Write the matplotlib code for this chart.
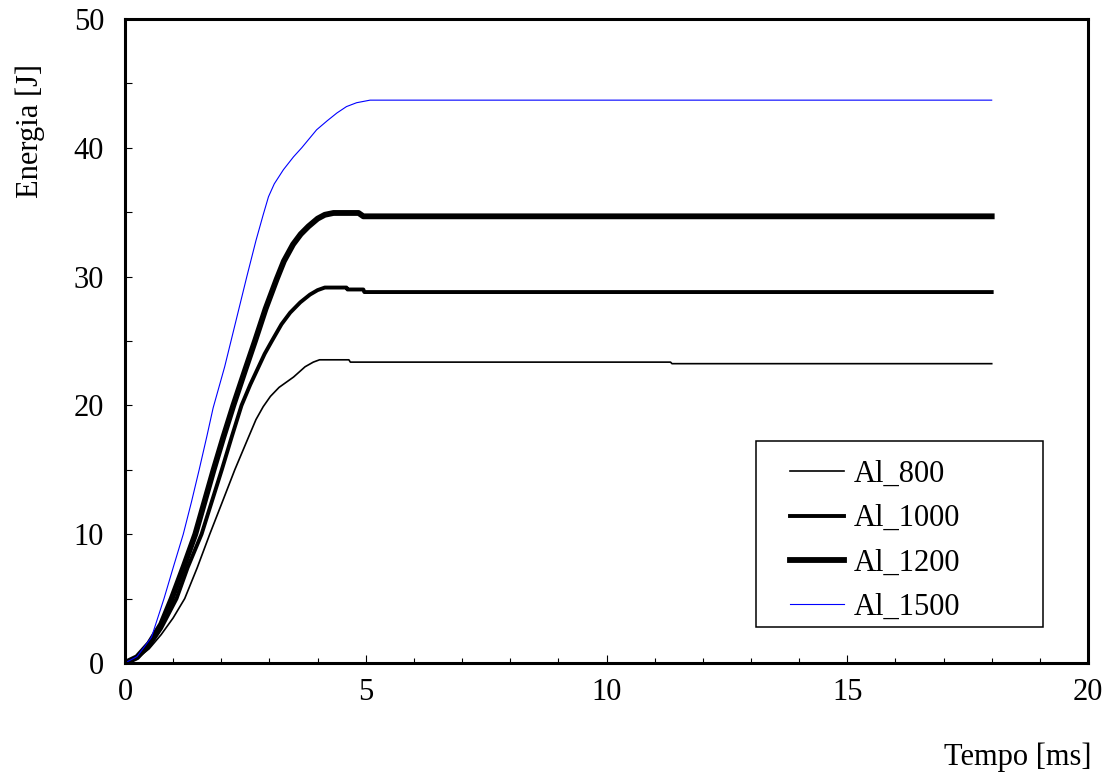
import matplotlib
matplotlib.use("Agg")
import matplotlib.pyplot as plt
from matplotlib.patches import Rectangle
from matplotlib.ticker import MultipleLocator

plt.rcParams['font.family'] = ['Liberation Serif', 'DejaVu Serif']

# Energy absorbed vs. time for aluminium specimens
t_800 = [0, 0.25, 0.5, 0.75, 1.0, 1.24, 1.5, 1.76, 2.0, 2.28, 2.55, 2.72, 2.87,
         3.02, 3.2, 3.5, 3.74, 3.91, 4.04, 4.65, 4.68, 11.33, 11.36, 18.0]
e_800 = [0, 0.35, 1.1, 2.2, 3.5, 5.0, 7.4, 10.0, 12.3, 15.0, 17.4, 18.9, 19.9,
         20.7, 21.4, 22.2, 23.0, 23.36, 23.54, 23.54, 23.36, 23.36, 23.24, 23.24]

t_1000 = [0, 0.25, 0.5, 0.75, 1.07, 1.3, 1.59, 1.8, 2.01, 2.22, 2.42, 2.6, 2.75,
          2.9, 3.05, 3.25, 3.43, 3.64, 3.84, 4.0, 4.15, 4.60, 4.62, 4.95, 4.97, 18.0]
e_1000 = [0, 0.4, 1.3, 2.7, 5.0, 7.4, 10.0, 12.5, 15.0, 17.6, 20.0, 21.6, 22.8,
          24.0, 25.0, 26.3, 27.2, 28.0, 28.6, 28.95, 29.15, 29.15, 29.0, 29.0, 28.8, 28.8]

t_1200 = [0, 0.25, 0.5, 0.75, 0.97, 1.22, 1.46, 1.65, 1.84, 2.04, 2.25, 2.5, 2.7,
          2.92, 3.15, 3.3, 3.49, 3.65, 3.81, 4.0, 4.15, 4.33, 4.85, 4.95, 18.0]
e_1200 = [0, 0.45, 1.5, 3.0, 5.0, 7.5, 10.0, 12.5, 15.0, 17.5, 20.0, 22.8, 25.0,
          27.5, 29.8, 31.2, 32.5, 33.3, 33.9, 34.5, 34.8, 34.94, 34.94, 34.68, 34.68]

t_1500 = [0, 0.25, 0.55, 0.81, 1.0, 1.21, 1.38, 1.54, 1.7, 1.83, 2.07, 2.3, 2.53,
          2.72, 2.87, 2.98, 3.1, 3.29, 3.5, 3.67, 3.98, 4.2, 4.40, 4.6, 4.81, 5.09, 18.0]
e_1500 = [0, 0.5, 2.0, 5.0, 7.4, 10.0, 12.5, 15.0, 17.6, 19.8, 23.0, 26.5, 30.0,
          32.8, 34.8, 36.2, 37.2, 38.3, 39.3, 40.0, 41.4, 42.1, 42.7, 43.2, 43.5, 43.7, 43.7]

labels = ["Al_800", "Al_1000", "Al_1200", "Al_1500"]

W, H = 1115, 778
fig = plt.figure(figsize=(W / 100, H / 100), dpi=100)
ax = fig.add_axes([125 / W, 1 - 663 / H, (1088 - 125) / W, (663 - 19) / H])

ax.plot(t_800, e_800, color="black", lw=1.2, label=labels[0])
ax.plot(t_1000, e_1000, color="black", lw=2.8, label=labels[1])
ax.plot(t_1200, e_1200, color="black", lw=4.2, label=labels[2])
ax.plot(t_1500, e_1500, color="#0000FF", lw=0.8, label=labels[3])

ax.set_xlim(0, 20)
ax.set_ylim(0, 50)
ax.xaxis.set_major_locator(MultipleLocator(5))
ax.xaxis.set_minor_locator(MultipleLocator(1))
ax.yaxis.set_major_locator(MultipleLocator(10))
ax.yaxis.set_minor_locator(MultipleLocator(5))

ax.tick_params(axis="x", which="major", direction="in", length=6, width=0.8,
               labelsize=22, pad=11)
ax.tick_params(axis="x", which="minor", direction="in", length=3.5, width=0.8)
ax.tick_params(axis="y", which="both", direction="in", length=5, width=0.8,
               labelsize=22, pad=15)

for s in ax.spines.values():
    s.set_linewidth(2.2)

ax.set_ylabel("Energia [J]", fontsize=22)
ax.yaxis.set_label_coords(-0.083, 0.826)
ax.set_xlabel("Tempo [ms]", fontsize=22)
ax.xaxis.set_label_coords(0.927, -0.124)

# Legend entries without frame, boxed by a separate rectangle
leg = ax.legend(loc="upper left",
                bbox_to_anchor=((790 - 125) / (1088 - 125), (663 - 460) / 644),
                frameon=False, fontsize=22, handlelength=1.77, handletextpad=0.3,
                labelspacing=0.5, borderpad=0, borderaxespad=0)
box = Rectangle(((756 - 125) / (1088 - 125), (663 - 627) / 644),
                (1043 - 756) / (1088 - 125), (627 - 441) / 644,
                transform=ax.transAxes, fill=False, edgecolor="black", lw=1.1, zorder=5)
ax.add_patch(box)

fig.savefig("out.png", dpi=100)
